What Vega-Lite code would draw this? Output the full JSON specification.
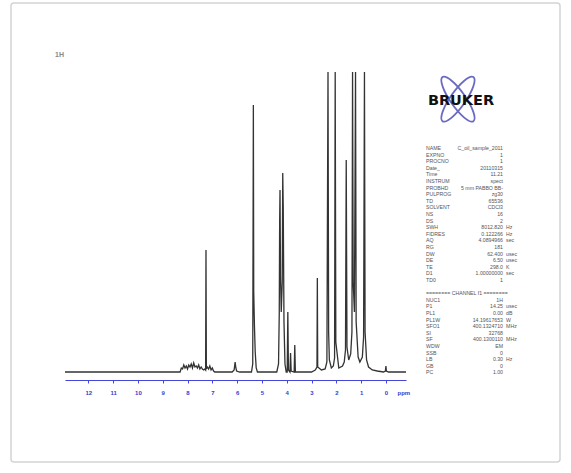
{
  "$schema": "https://vega.github.io/schema/vega-lite/v6.json",
  "autosize": {"type": "none"},
  "width": 549,
  "height": 459,
  "padding": {"left": 11, "top": 3, "right": 11, "bottom": 11},
  "background": "#ffffff",
  "config": {
    "view": {"stroke": "#d4d4d4", "strokeWidth": 1.5, "cornerRadius": 3, "fill": "#ffffff"},
    "font": "Liberation Sans"
  },
  "title": {"text": "1H", "anchor": "start", "orient": "top", "offset": 0, "dx": 44, "dy": 59, "baseline": "middle", "fontSize": 7, "fontWeight": "bold", "color": "#888888", "font": "Liberation Sans"},
  "datasets": {
    "spectrum": [
      {"ppm": 12.94, "i": 0}, {"ppm": 9.0, "i": 0}, {"ppm": 8.3, "i": 0}, {"ppm": 8.25, "i": 4}, {"ppm": 8.2, "i": 3}, {"ppm": 8.15, "i": 7}, {"ppm": 8.1, "i": 4}, {"ppm": 8.05, "i": 6}, {"ppm": 8.0, "i": 3}, {"ppm": 7.95, "i": 7}, {"ppm": 7.9, "i": 5}, {"ppm": 7.85, "i": 8}, {"ppm": 7.8, "i": 4}, {"ppm": 7.75, "i": 9}, {"ppm": 7.7, "i": 5}, {"ppm": 7.65, "i": 6}, {"ppm": 7.6, "i": 4}, {"ppm": 7.55, "i": 7}, {"ppm": 7.5, "i": 3}, {"ppm": 7.45, "i": 5}, {"ppm": 7.4, "i": 3}, {"ppm": 7.35, "i": 2}, {"ppm": 7.3, "i": 3}, {"ppm": 7.27, "i": 2}, {"ppm": 7.255, "i": 122}, {"ppm": 7.24, "i": 3}, {"ppm": 7.2, "i": 5}, {"ppm": 7.15, "i": 3}, {"ppm": 7.1, "i": 6}, {"ppm": 7.05, "i": 2}, {"ppm": 7.0, "i": 4}, {"ppm": 6.95, "i": 1}, {"ppm": 6.9, "i": 0},
      {"ppm": 6.2, "i": 0}, {"ppm": 6.12, "i": 2}, {"ppm": 6.08, "i": 10}, {"ppm": 6.05, "i": 4}, {"ppm": 6.02, "i": 1}, {"ppm": 5.9, "i": 0},
      {"ppm": 5.42, "i": 0}, {"ppm": 5.37, "i": 8}, {"ppm": 5.345, "i": 267}, {"ppm": 5.33, "i": 80}, {"ppm": 5.3, "i": 45}, {"ppm": 5.27, "i": 20}, {"ppm": 5.23, "i": 4}, {"ppm": 5.18, "i": 0},
      {"ppm": 4.4, "i": 0}, {"ppm": 4.33, "i": 8}, {"ppm": 4.3, "i": 60}, {"ppm": 4.285, "i": 150}, {"ppm": 4.27, "i": 182}, {"ppm": 4.25, "i": 95}, {"ppm": 4.22, "i": 60}, {"ppm": 4.18, "i": 90}, {"ppm": 4.16, "i": 199}, {"ppm": 4.14, "i": 165}, {"ppm": 4.11, "i": 50}, {"ppm": 4.07, "i": 8}, {"ppm": 4.02, "i": 0},
      {"ppm": 3.98, "i": 0}, {"ppm": 3.955, "i": 60}, {"ppm": 3.93, "i": 2}, {"ppm": 3.87, "i": 0}, {"ppm": 3.845, "i": 19}, {"ppm": 3.82, "i": 1}, {"ppm": 3.7, "i": 0}, {"ppm": 3.675, "i": 27}, {"ppm": 3.65, "i": 0},
      {"ppm": 3.0, "i": 0}, {"ppm": 2.85, "i": 2}, {"ppm": 2.78, "i": 5}, {"ppm": 2.765, "i": 94}, {"ppm": 2.75, "i": 5}, {"ppm": 2.6, "i": 2}, {"ppm": 2.45, "i": 3}, {"ppm": 2.38, "i": 10}, {"ppm": 2.335, "i": 800}, {"ppm": 2.31, "i": 40}, {"ppm": 2.28, "i": 12}, {"ppm": 2.2, "i": 4}, {"ppm": 2.12, "i": 6}, {"ppm": 2.07, "i": 14}, {"ppm": 2.045, "i": 800}, {"ppm": 2.02, "i": 30}, {"ppm": 1.9, "i": 4}, {"ppm": 1.75, "i": 6}, {"ppm": 1.68, "i": 10}, {"ppm": 1.63, "i": 22}, {"ppm": 1.6, "i": 212}, {"ppm": 1.57, "i": 25}, {"ppm": 1.5, "i": 12}, {"ppm": 1.42, "i": 18}, {"ppm": 1.37, "i": 40}, {"ppm": 1.345, "i": 800}, {"ppm": 1.32, "i": 90}, {"ppm": 1.27, "i": 60}, {"ppm": 1.225, "i": 800}, {"ppm": 1.2, "i": 50}, {"ppm": 1.12, "i": 15}, {"ppm": 1.05, "i": 10}, {"ppm": 0.95, "i": 15}, {"ppm": 0.9, "i": 35}, {"ppm": 0.865, "i": 800}, {"ppm": 0.84, "i": 40}, {"ppm": 0.78, "i": 12}, {"ppm": 0.7, "i": 5}, {"ppm": 0.55, "i": 2}, {"ppm": 0.35, "i": 1}, {"ppm": 0.1, "i": 0}, {"ppm": 0.02, "i": 1}, {"ppm": 0.0, "i": 6}, {"ppm": -0.02, "i": 1}, {"ppm": -0.1, "i": 0}, {"ppm": -0.81, "i": 0}
    ],
    "params": [
      {"line": 0, "name": "NAME", "value": "C_oil_sample_2011", "unit": ""},
      {"line": 1, "name": "EXPNO", "value": "1", "unit": ""},
      {"line": 2, "name": "PROCNO", "value": "1", "unit": ""},
      {"line": 3, "name": "Date_", "value": "20110315", "unit": ""},
      {"line": 4, "name": "Time", "value": "11.21", "unit": ""},
      {"line": 5, "name": "INSTRUM", "value": "spect", "unit": ""},
      {"line": 6, "name": "PROBHD", "value": "5 mm PABBO BB-", "unit": ""},
      {"line": 7, "name": "PULPROG", "value": "zg30", "unit": ""},
      {"line": 8, "name": "TD", "value": "65536", "unit": ""},
      {"line": 9, "name": "SOLVENT", "value": "CDCl3", "unit": ""},
      {"line": 10, "name": "NS", "value": "16", "unit": ""},
      {"line": 11, "name": "DS", "value": "2", "unit": ""},
      {"line": 12, "name": "SWH", "value": "8012.820", "unit": "Hz"},
      {"line": 13, "name": "FIDRES", "value": "0.122266", "unit": "Hz"},
      {"line": 14, "name": "AQ", "value": "4.0894966", "unit": "sec"},
      {"line": 15, "name": "RG", "value": "181", "unit": ""},
      {"line": 16, "name": "DW", "value": "62.400", "unit": "usec"},
      {"line": 17, "name": "DE", "value": "6.50", "unit": "usec"},
      {"line": 18, "name": "TE", "value": "298.0", "unit": "K"},
      {"line": 19, "name": "D1", "value": "1.00000000", "unit": "sec"},
      {"line": 20, "name": "TD0", "value": "1", "unit": ""},
      {"line": 22, "name": "======== CHANNEL f1 ========", "value": "", "unit": ""},
      {"line": 23, "name": "NUC1", "value": "1H", "unit": ""},
      {"line": 24, "name": "P1", "value": "14.25", "unit": "usec"},
      {"line": 25, "name": "PL1", "value": "0.00", "unit": "dB"},
      {"line": 26, "name": "PL1W", "value": "14.19617653", "unit": "W"},
      {"line": 27, "name": "SFO1", "value": "400.1324710", "unit": "MHz"},
      {"line": 28, "name": "SI", "value": "32768", "unit": ""},
      {"line": 29, "name": "SF", "value": "400.1300110", "unit": "MHz"},
      {"line": 30, "name": "WDW", "value": "EM", "unit": ""},
      {"line": 31, "name": "SSB", "value": "0", "unit": ""},
      {"line": 32, "name": "LB", "value": "0.30", "unit": "Hz"},
      {"line": 33, "name": "GB", "value": "0", "unit": ""},
      {"line": 34, "name": "PC", "value": "1.00", "unit": ""}
    ],
    "logo": [{"label": "BRUKER"}]
  },
  "resolve": {"scale": {"x": "independent", "y": "independent"}, "axis": {"x": "independent", "y": "independent"}},
  "layer": [
    {
      "data": {"name": "spectrum"},
      "mark": {"type": "line", "color": "#333333", "strokeWidth": 1.3, "interpolate": "linear"},
      "encoding": {
        "x": {"field": "ppm", "type": "quantitative", "sort": null,
              "scale": {"domain": [12.94, -0.81], "range": [54, 395], "nice": false, "zero": false},
              "axis": {"orient": "bottom", "offset": -82, "values": [12, 11, 10, 9, 8, 7, 6, 5, 4, 3, 2, 1, 0], "format": "d",
                       "domainColor": "#4646d8", "domainWidth": 1, "tickColor": "#4646d8", "tickSize": 3, "tickWidth": 1,
                       "labelColor": "#3a3ad0", "labelFontSize": 6, "labelFontWeight": "bold", "labelPadding": 6, "labelFlush": false,
                       "grid": false, "title": "ppm", "titleColor": "#3a3ad0", "titleFontSize": 6, "titleFontWeight": "bold",
                       "titleAlign": "left", "titleAnchor": null, "titleX": 386, "titleY": 12, "titleBaseline": "middle"}},
        "y": {"field": "i", "type": "quantitative",
              "scale": {"domain": [-8, 300], "range": [377, 69], "clamp": true, "nice": false, "zero": false},
              "axis": null},
        "order": {"field": "ppm", "sort": "descending"}
      }
    },
    {
      "data": {"name": "logo"},
      "mark": {"type": "point", "shape": "M -0.574 -0.819 A 1 0.28 55 0 1 0.574 0.819 A 1 0.28 55 0 1 -0.574 -0.819 Z M 0.574 -0.819 A 1 0.28 -55 0 1 -0.574 0.819 A 1 0.28 -55 0 1 0.574 -0.819 Z", "size": 2900, "filled": false, "stroke": "#6a6ac4", "strokeWidth": 1.8, "opacity": 1},
      "encoding": {
        "x": {"datum": 0.415, "type": "quantitative", "scale": {"domain": [0, 1], "range": [415, 492], "zero": false, "nice": false}, "axis": null},
        "y": {"datum": -7.4, "type": "quantitative", "scale": {"domain": [0, 34], "range": [145, 369.4], "zero": false, "nice": false}, "axis": null}
      }
    },
    {
      "data": {"name": "logo"},
      "mark": {"type": "text", "font": "DejaVu Sans", "fontSize": 14.5, "fontWeight": "bold", "color": "#111111", "align": "center", "baseline": "middle"},
      "encoding": {
        "text": {"field": "label"},
        "x": {"datum": 0.455, "type": "quantitative", "scale": {"domain": [0, 1], "range": [415, 492], "zero": false, "nice": false}, "axis": null},
        "y": {"datum": -7.1, "type": "quantitative", "scale": {"domain": [0, 34], "range": [145, 369.4], "zero": false, "nice": false}, "axis": null}
      }
    },
    {
      "data": {"name": "params"},
      "mark": {"type": "text", "fontSize": 5.2, "color": "#555555", "align": "left", "baseline": "middle"},
      "encoding": {
        "text": {"field": "name"},
        "x": {"datum": 0, "type": "quantitative", "scale": {"domain": [0, 1], "range": [415, 492], "zero": false, "nice": false}, "axis": null},
        "y": {"field": "line", "type": "quantitative", "scale": {"domain": [0, 34], "range": [145, 369.4], "zero": false, "nice": false}, "axis": null}
      }
    },
    {
      "data": {"name": "params"},
      "mark": {"type": "text", "fontSize": 5.2, "color": "#555555", "align": "right", "baseline": "middle"},
      "encoding": {
        "text": {"field": "value"},
        "x": {"datum": 1, "type": "quantitative", "scale": {"domain": [0, 1], "range": [415, 492], "zero": false, "nice": false}, "axis": null},
        "y": {"field": "line", "type": "quantitative", "scale": {"domain": [0, 34], "range": [145, 369.4], "zero": false, "nice": false}, "axis": null}
      }
    },
    {
      "data": {"name": "params"},
      "mark": {"type": "text", "fontSize": 5.2, "color": "#555555", "align": "left", "baseline": "middle"},
      "encoding": {
        "text": {"field": "unit"},
        "x": {"datum": 1.04, "type": "quantitative", "scale": {"domain": [0, 1], "range": [415, 492], "zero": false, "nice": false}, "axis": null},
        "y": {"field": "line", "type": "quantitative", "scale": {"domain": [0, 34], "range": [145, 369.4], "zero": false, "nice": false}, "axis": null}
      }
    }
  ]
}
